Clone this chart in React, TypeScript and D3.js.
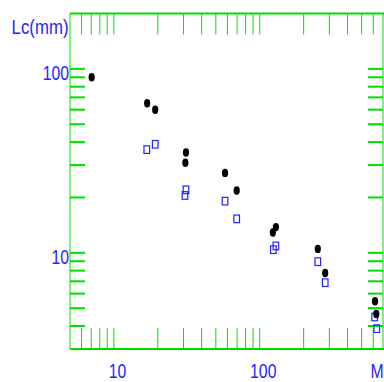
import React from "react";
import * as d3 from "d3";

const W = 384;
const H = 382;

// black dots (M, Lc)
const dotM = [7.04, 16.9, 19.2, 31.2, 30.9, 57.8, 69.5, 129, 123, 250, 281, 617, 630];
const dotLc = [90.1, 65.0, 59.9, 35.1, 30.9, 27.2, 21.8, 13.8, 12.9, 10.5, 7.77, 5.45, 4.65];
// blue squares (M, Lc)
const sqM = [16.8, 19.2, 31.2, 30.7, 57.8, 69.5, 124, 129, 250, 281, 614, 634];
const sqLc = [36.4, 38.9, 22.0, 20.5, 19.1, 15.3, 10.4, 10.9, 8.95, 6.88, 4.48, 3.87];

const xTickVals = [6, 7, 8, 9, 10, 20, 30, 40, 50, 60, 70, 80, 90, 100, 200, 300, 400, 500, 600];
const yTickVals = [4, 5, 6, 7, 8, 9, 10, 20, 30, 40, 50, 60, 70, 80, 90, 100];
const xLabels = [10, 100];
const yLabels = [10, 100];

const GREEN = "#00e000";
const BLUE = "#2424ff";

export default function App() {
  const left = 70, right = 383, top = 13.5, bottom = 349;
  const x = d3.scaleLog().domain([5, 700]).range([left, right]);
  const y = d3.scaleLog().domain([3, 200]).range([bottom, top]);
  const fs = 21;
  const sx = 0.75;

  return (
    <svg width={W} height={H} style={{ position: "absolute", left: 0, top: 0, background: "#fff" }}
      fontFamily="'Liberation Sans', Arial, sans-serif">
      {/* frame */}
      <line x1={left} x2={left} y1={top} y2={bottom} stroke={GREEN} strokeWidth={1} />
      <line x1={right} x2={right} y1={top} y2={bottom} stroke={GREEN} strokeWidth={1} />
      <line x1={left} x2={right + 1} y1={top} y2={top} stroke={GREEN} strokeWidth={2} />
      <line x1={left} x2={right + 1} y1={bottom} y2={bottom} stroke={GREEN} strokeWidth={2} />
      {/* x ticks */}
      {xTickVals.map((v) => (
        <g key={"xt" + v}>
          <line x1={x(v)} x2={x(v)} y1={top} y2={top + 21} stroke={GREEN} strokeWidth={1} />
          <line x1={x(v)} x2={x(v)} y1={bottom} y2={bottom - 21} stroke={GREEN} strokeWidth={1} />
        </g>
      ))}
      {/* y ticks */}
      {yTickVals.map((v) => (
        <g key={"yt" + v}>
          <line x1={left} x2={left + 15} y1={y(v)} y2={y(v)} stroke={GREEN} strokeWidth={2} />
          <line x1={right} x2={right - 15} y1={y(v)} y2={y(v)} stroke={GREEN} strokeWidth={2} />
        </g>
      ))}
      {/* labels */}
      {xLabels.map((v) => (
        <text key={"xl" + v} transform={`translate(${x(v) + 3.5},377.5) scale(${sx},1)`} textAnchor="middle"
          fontSize={fs} fill={BLUE}>{v}</text>
      ))}
      {yLabels.map((v) => (
        <text key={"yl" + v} transform={`translate(69,${y(v) + 11}) scale(${sx},1)`} textAnchor="end"
          fontSize={fs} fill={BLUE}>{v}</text>
      ))}
      <text transform={`translate(383.5,377.5) scale(${sx},1)`} textAnchor="end" fontSize={fs} fill={BLUE}>M</text>
      <text transform={`translate(68.5,34) scale(0.8,1)`} textAnchor="end" fontSize={fs} fill={BLUE}>Lc(mm)</text>
      {/* data */}
      {sqM.map((m, i) => (
        <rect key={"sq" + i} x={x(m) - 2.8} y={y(sqLc[i]) - 3.8} width={5.6} height={7.6}
          fill="none" stroke={BLUE} strokeWidth={1.2} />
      ))}
      {dotM.map((m, i) => (
        <ellipse key={"d" + i} cx={x(m)} cy={y(dotLc[i])} rx={3.1} ry={4.2} fill="#000" />
      ))}
    </svg>
  );
}
